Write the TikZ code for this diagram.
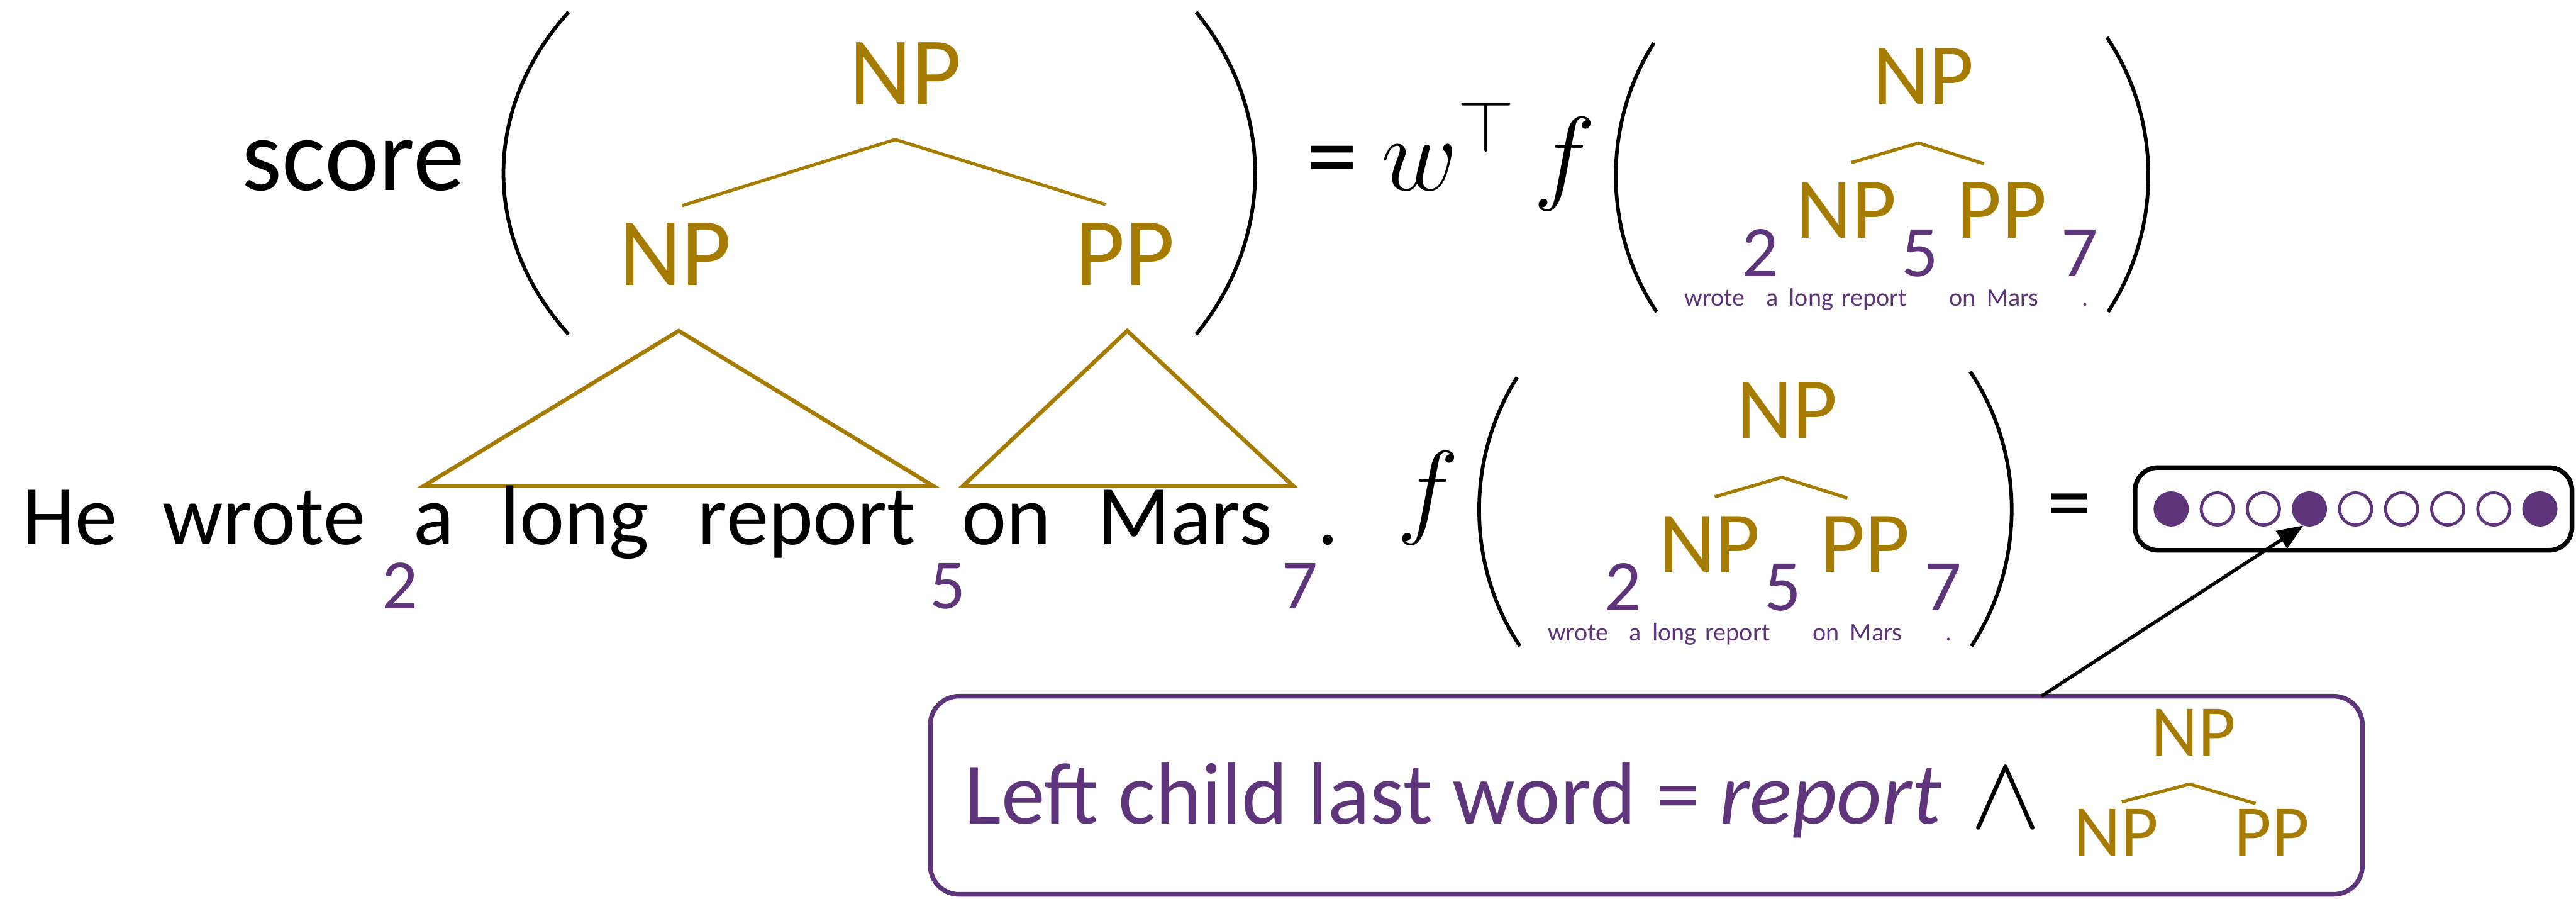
\documentclass[tikz,border=0pt]{standalone}
\usepackage{fix-cm}
\usepackage{fontspec}
\setmainfont{Carlito}
\usepackage{amsmath}
\usepackage{xcolor}
\usetikzlibrary{arrows.meta,positioning}
\definecolor{treegold}{RGB}{166,124,0}
\definecolor{spanpurple}{RGB}{94,52,122}

\begin{document}
\begin{tikzpicture}[
    lbl/.style={inner sep=0pt, anchor=base},
    cat/.style={lbl, text=treegold, font=\fontsize{48}{56}\selectfont},
    smallcat/.style={lbl, text=treegold, font=\fontsize{43}{50}\selectfont},
    boxcat/.style={lbl, text=treegold, font=\fontsize{36}{42}\selectfont},
    idx/.style={lbl, text=spanpurple, font=\fontsize{36}{42}\selectfont},
    minitok/.style={lbl, text=spanpurple, font=\fontsize{12.5}{15}\selectfont},
    word/.style={lbl, font=\fontsize{42}{50}\selectfont},
    bigmath/.style={lbl, font=\fontsize{52}{60}\selectfont},
    paren/.style={line width=1.8pt},
    branch/.style={treegold, line width=1.6pt},
    vecdot/.style={circle, draw=spanpurple, line width=1.5pt, minimum size=0.56cm, inner sep=0pt},
  ]
  \useasboundingbox (0,0) rectangle (44.86,15.64);

  % score( tree )
  \node[lbl, anchor=base west, font=\fontsize{51}{60}\selectfont] (score) at (4.20,12.33) {score};
  \draw[paren] (9.90,15.43) .. controls (8.39,13.75) and (8.39,11.50) .. (9.90,9.82);
  \draw[paren] (20.83,15.43) .. controls (22.20,13.75) and (22.20,11.50) .. (20.83,9.82);
  \node[cat] (np) at (15.77,13.82) {NP};
  \node[cat] (npl) at (11.76,10.67) {NP};
  \node[cat] (ppr) at (19.59,10.67) {PP};
  \coordinate (top) at (15.59,13.21);
  \coordinate (lend) at (11.88,12.06);
  \coordinate (rend) at (19.25,12.08);
  \draw[branch] (lend) -- (top) -- (rend);

  % subtrees over the sentence
  \draw[treegold, line width=2pt] (11.82,9.88) -- (7.38,7.18) -- (16.25,7.18) -- cycle;
  \draw[treegold, line width=2pt] (19.63,9.88) -- (16.77,7.18) -- (22.52,7.18) -- cycle;

  % sentence
  \node[word] (w1) at (1.22,6.16) {He};
  \node[word] (w2) at (4.60,6.16) {wrote};
  \node[word] (w3) at (7.55,6.16) {a};
  \node[word] (w4) at (10.01,6.16) {long};
  \node[word] (w5) at (14.05,6.16) {report};
  \node[word] (w6) at (17.53,6.16) {on};
  \node[word] (w7) at (20.64,6.16) {Mars};
  \node[word] (w8) at (23.12,6.16) {.};
  \node[idx, font=\fontsize{35}{42}\selectfont] (i2) at (6.97,5.04) {2};
  \node[idx, font=\fontsize{35}{42}\selectfont] (i5) at (16.50,5.04) {5};
  \node[idx, font=\fontsize{35}{42}\selectfont] (i7) at (22.64,5.04) {7};

  % = w^T
  \node[lbl, font=\fontsize{51}{60}\selectfont] (eq1) at (23.20,12.33) {=};
  \node[bigmath, anchor=base west] (wT) at (24.05,12.33) {$w^{\top}$};

  % f( NP -> NP PP ), drawn twice
  \foreach \dx/\dy/\b in {0/0/a, -2.38/-5.82/b} {
    \begin{scope}[shift={(\dx,\dy)}]
      \node[bigmath] (f\b) at (27.25,12.33) {$f$};
      \draw[paren] (28.80,14.89) .. controls (27.91,13.49) and (27.91,11.61) .. (28.85,10.21);
      \draw[paren] (36.69,14.99) .. controls (37.65,13.56) and (37.65,11.64) .. (36.71,10.21);
      \node[smallcat] (np\b) at (33.50,13.83) {NP};
      \node[smallcat] (npl\b) at (32.15,11.50) {NP};
      \node[smallcat] (ppr\b) at (34.86,11.50) {PP};
      \coordinate (hl\b) at (32.24,12.81);
      \coordinate (ht\b) at (33.41,13.15);
      \coordinate (hr\b) at (34.55,12.79);
      \draw[branch] (hl\b) -- (ht\b) -- (hr\b);
      \node[idx] (i2\b) at (30.65,10.83) {2};
      \node[idx] (i5\b) at (33.43,10.83) {5};
      \node[idx] (i7\b) at (36.22,10.83) {7};
      \node[minitok] (t1\b) at (29.86,10.31) {wrote};
      \node[minitok] (t2\b) at (30.86,10.31) {a};
      \node[minitok] (t3\b) at (31.54,10.31) {long};
      \node[minitok] (t4\b) at (32.64,10.31) {report};
      \node[minitok] (t5\b) at (34.18,10.31) {on};
      \node[minitok] (t6\b) at (35.05,10.31) {Mars};
      \node[minitok] (t7\b) at (36.31,10.31) {.};
    \end{scope}
  }

  % = feature vector
  \node[lbl, font=\fontsize{44}{52}\selectfont] (eq2) at (36.04,6.38) {=};
  \node[draw, line width=2.3pt, rounded corners=0.4cm, minimum width=7.61cm,
    minimum height=1.44cm] (vec) at (40.985,6.78) {};
  \foreach \i/\c in {1/spanpurple, 2/white, 3/white, 4/spanpurple, 5/white,
                     6/white, 7/white, 8/white, 9/spanpurple}
    \node[vecdot, fill=\c] (d\i) at ({37.81+0.8025*(\i-1)},6.78) {};

  % the feature
  \node[draw=spanpurple, line width=2.3pt, rounded corners=0.5cm, minimum width=24.94cm,
    minimum height=3.45cm] (feat) at (28.67,1.795) {};
  \node[word, anchor=base west, text=spanpurple, font=\fontsize{43.5}{50}\selectfont] (ftext)
    at (16.79,1.30) {Left child last word = \textit{report}};
  \node[bigmath] (wedge) at (34.93,1.23) {$\wedge$};
  \node[boxcat] (npc) at (38.20,2.48) {NP};
  \node[boxcat] (nplc) at (36.85,0.74) {NP};
  \node[boxcat] (pprc) at (39.56,0.74) {PP};
  \coordinate (hlc) at (36.95,1.68);
  \coordinate (htc) at (38.13,1.99);
  \coordinate (hrc) at (39.28,1.65);
  \draw[branch] (hlc) -- (htc) -- (hrc);

  % pointer
  \coordinate (tail) at (35.55,3.52);
  \draw[-{Triangle[length=13pt,width=10pt]}, line width=1.7pt] (tail) -- (d4.250);
\end{tikzpicture}
\end{document}
